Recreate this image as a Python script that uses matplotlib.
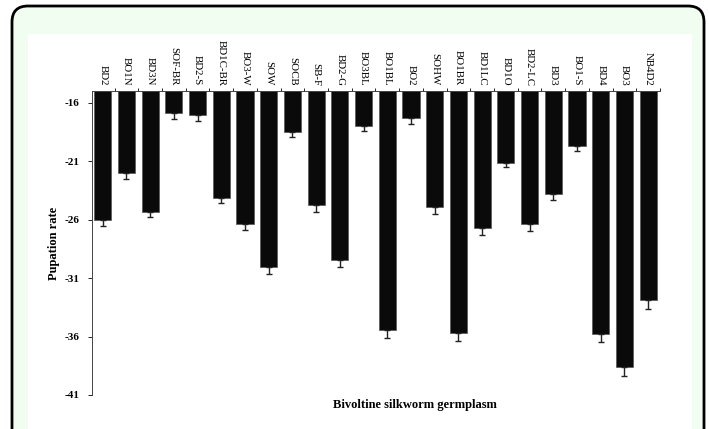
import numpy as np
import matplotlib.pyplot as plt
from matplotlib.patches import FancyBboxPatch, Rectangle

plt.rcParams['font.family'] = ['Liberation Serif', 'DejaVu Serif']

# germplasm names and pupation rate values
names = ['BD2', 'BO1N', 'BD3N', 'SOF-BR', 'BD2-S', 'BD1C-BR', 'BO3-W', 'SOW',
         'SOCB', 'SB-F', 'BD2-G', 'BO3BL', 'BO1BL', 'BO2', 'SOHW', 'BO1BR',
         'BD1LC', 'BD1O', 'BD2-LC', 'BD3', 'BO1-S', 'BD4', 'BO3', 'NB4D2']
vals = [-26.0, -22.0, -25.3, -16.9, -17.0, -24.1, -26.4, -30.0,
        -18.5, -24.7, -29.4, -18.0, -35.4, -17.3, -24.9, -35.7,
        -26.7, -21.1, -26.4, -23.8, -19.7, -35.8, -38.6, -32.9]
errs = [0.5, 0.5, 0.5, 0.5, 0.5, 0.5, 0.5, 0.6,
        0.4, 0.6, 0.6, 0.4, 0.7, 0.5, 0.6, 0.7,
        0.6, 0.4, 0.6, 0.5, 0.4, 0.7, 0.8, 0.7]
yticks = [-16, -21, -26, -31, -36, -41]
base = -15

fig = plt.figure(figsize=(7.09, 4.29), dpi=100)

# outer rounded green frame and inner white panel
frame = FancyBboxPatch((0.12, -0.5), 6.92, 4.73, boxstyle='round,pad=0,rounding_size=0.16',
                       transform=fig.dpi_scale_trans, facecolor='#f0fdf0', edgecolor='black',
                       linewidth=2, clip_on=False, zorder=-2)
fig.patches.append(frame)
panel = Rectangle((0.28, -0.5), 6.64, 4.45, transform=fig.dpi_scale_trans,
                  facecolor='white', edgecolor='none', zorder=-1)
fig.patches.append(panel)

ax = fig.add_axes([92/709, 1-395/429, (660-92)/709, (395-91.3)/429])
ax.set_facecolor('none')

x = np.arange(len(names))
heights = np.array(vals) - base
ax.bar(x, heights, bottom=base, width=0.72, color='#0a0a0a', edgecolor='#555555', linewidth=0.5)
ax.errorbar(x, vals, yerr=[errs, np.zeros(len(errs))], fmt='none', ecolor='#222222',
            elinewidth=1, capsize=2.5, capthick=1)

ax.set_xlim(-0.45, 23.5)
ax.set_ylim(-41, base)
ax.xaxis.tick_top()
ax.set_xticks(x)
ax.set_xticklabels(names, rotation=270, fontsize=7.8)
ax.tick_params(axis='x', which='major', length=0, pad=4)
ax.set_xticks(x + 0.5, minor=True)
ax.tick_params(axis='x', which='minor', length=2.5, width=0.6, top=True, bottom=False)
ax.set_yticks(yticks)
ax.set_yticklabels([str(t) for t in yticks], fontsize=8, fontweight='bold')
ax.tick_params(axis='y', length=3, width=0.6, pad=6)

for s in ['right', 'bottom']:
    ax.spines[s].set_visible(False)
for s in ['left', 'top']:
    ax.spines[s].set_linewidth(0.7)
    ax.spines[s].set_color('#444444')

ax.set_ylabel('Pupation rate', fontsize=9, fontweight='bold', labelpad=3)
fig.text(415/709, 1-405/429, 'Bivoltine silkworm germplasm', fontsize=9, fontweight='bold',
         ha='center', va='center')

fig.savefig('out.png', dpi=100)
